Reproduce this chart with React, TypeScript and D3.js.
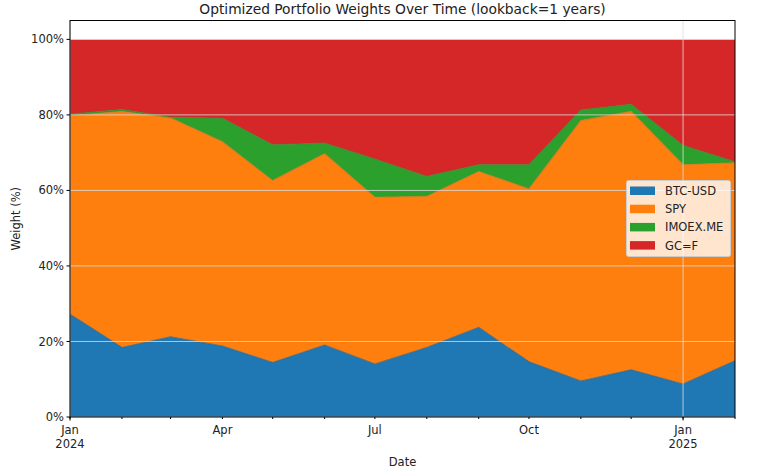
import React from "react";
import * as d3 from "d3";

const months = [
  "2024-01-01", "2024-02-01", "2024-03-01", "2024-04-01", "2024-05-01", "2024-06-01", "2024-07-01",
  "2024-08-01", "2024-09-01", "2024-10-01", "2024-11-01", "2024-12-01", "2025-01-01", "2025-02-01",
];
const seriesNames = ["BTC-USD", "SPY", "IMOEX.ME", "GC=F"];
const btc = [27.2, 18.4, 21.2, 18.8, 14.4, 19.0, 14.0, 18.4, 23.7, 14.6, 9.5, 12.5, 8.7, 14.9];
const spy = [52.6, 62.5, 58.0, 54.1, 48.2, 50.7, 44.2, 40.0, 41.3, 45.8, 69.0, 68.4, 58.1, 52.4];
const imoex = [0.4, 0.5, 0.2, 6.2, 9.5, 2.8, 10.1, 5.3, 1.8, 6.4, 2.8, 1.9, 5.1, 0.3];
const gc = btc.map((b, i) => 100 - b - spy[i] - imoex[i]);
const yTicks = [0, 20, 40, 60, 80, 100];
const colors = ["#1f77b4", "#ff7f0e", "#2ca02c", "#d62728"];
const edgeColors = ["#2a6a96", "#d9771e", "#3d8a31", "#b8352f"];

const W = 758, H = 472;
const L = 70, R = 735, T = 20.5, B = 417;
const font = "'DejaVu Sans', sans-serif";

export default function App() {
  const parse = d3.utcParse("%Y-%m-%d");
  const dates = months.map((m) => parse(m) as Date);
  const x = d3.scaleUtc().domain([dates[0], dates[dates.length - 1]]).range([L, R]);
  const y = d3.scaleLinear().domain([0, 105]).range([B, T]);

  const rows = dates.map((d, i) => ({ date: d, "BTC-USD": btc[i], SPY: spy[i], "IMOEX.ME": imoex[i], "GC=F": gc[i] }));
  const stack = d3.stack<any>().keys(seriesNames)(rows);
  const area = d3.area<any>().x((d) => x(d.data.date)).y0((d) => y(d[0])).y1((d) => y(d[1]));
  const line = d3.line<any>().x((d) => x(d.data.date)).y((d) => y(d[1]));

  const majorX = [dates[0], dates[12]];
  const quarterLabels = [
    { d: dates[3], t: "Apr" }, { d: dates[6], t: "Jul" }, { d: dates[9], t: "Oct" },
  ];

  return (
    <svg width={W} height={H} style={{ position: "absolute", left: 0, top: 0, background: "#fff" }} fontFamily={font}>
      <rect x={0} y={0} width={W} height={H} fill="#fff" />
      {stack.map((s, i) => (
        <path key={i} d={area(s) || ""} fill={colors[i]} />
      ))}
      {stack.slice(0, 3).map((s, i) => (
        <path key={"l" + i} d={line(s) || ""} fill="none" stroke={edgeColors[i]} strokeWidth={1.2} strokeOpacity={0.8} />
      ))}
      {/* grid */}
      {yTicks.map((t) => (
        <line key={"gy" + t} x1={L} x2={R} y1={y(t)} y2={y(t)} stroke="#dcdcdc" strokeOpacity={0.8} strokeWidth={1} />
      ))}
      {majorX.map((d, i) => (
        <line key={"gx" + i} x1={x(d)} x2={x(d)} y1={T} y2={B} stroke="#dcdcdc" strokeOpacity={0.8} strokeWidth={1} />
      ))}
      {/* frame */}
      <rect x={L} y={T} width={R - L} height={B - T} fill="none" stroke="#000" strokeWidth={1} />
      {/* y ticks */}
      {yTicks.map((t) => (
        <g key={"yt" + t}>
          <line x1={L - 3.5} x2={L} y1={y(t)} y2={y(t)} stroke="#000" />
          <text x={L - 6} y={y(t)} dy="0.35em" textAnchor="end" fontSize={11.5} fill="#222">{t}%</text>
        </g>
      ))}
      {/* x minor ticks */}
      {dates.map((d, i) => (
        <line key={"xm" + i} x1={x(d)} x2={x(d)} y1={B} y2={B + 2} stroke="#000" />
      ))}
      {majorX.map((d, i) => (
        <line key={"xM" + i} x1={x(d)} x2={x(d)} y1={B} y2={B + 3.5} stroke="#000" />
      ))}
      {quarterLabels.map((q) => (
        <text key={q.t} x={x(q.d)} y={B + 17} textAnchor="middle" fontSize={11.5} fill="#222">{q.t}</text>
      ))}
      <text x={x(dates[0])} y={B + 17} textAnchor="middle" fontSize={11.5} fill="#222">Jan</text>
      <text x={x(dates[0])} y={B + 31} textAnchor="middle" fontSize={11.5} fill="#222">2024</text>
      <text x={x(dates[12])} y={B + 17} textAnchor="middle" fontSize={11.5} fill="#222">Jan</text>
      <text x={x(dates[12])} y={B + 31} textAnchor="middle" fontSize={11.5} fill="#222">2025</text>
      {/* axis labels */}
      <text x={(L + R) / 2} y={466} textAnchor="middle" fontSize={11.5} fill="#222">Date</text>
      <text transform={`translate(20,${(T + B) / 2}) rotate(-90)`} textAnchor="middle" fontSize={11.5} fill="#222">Weight (%)</text>
      <text x={(L + R) / 2} y={14} textAnchor="middle" fontSize={13.8} fill="#222">Optimized Portfolio Weights Over Time (lookback=1 years)</text>
      {/* legend */}
      <g>
        <rect x={626.5} y={180.5} width={104} height={76} rx={2} fill="#fff" fillOpacity={0.8} stroke="#ccc" />
        {seriesNames.map((n, i) => (
          <g key={n}>
            <rect x={630} y={186.5 + i * 18.2} width={25} height={8.5} fill={colors[i]} />
            <text x={665} y={191 + i * 18.2} dy="0.35em" fontSize={11.5} fill="#222">{n}</text>
          </g>
        ))}
      </g>
    </svg>
  );
}
